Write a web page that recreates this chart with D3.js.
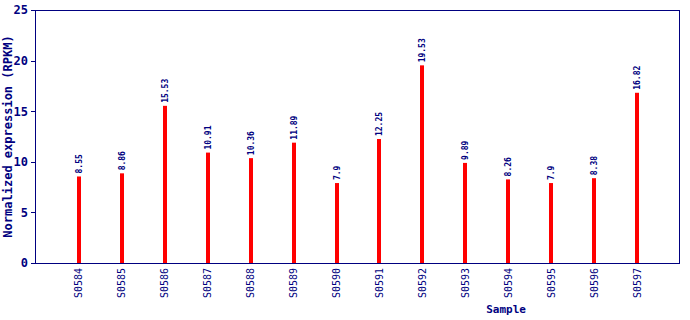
<!DOCTYPE html>
<html>
<head>
<meta charset="utf-8">
<script src="https://cdn.jsdelivr.net/npm/d3@7"></script>
<style>
  body { margin: 0; background: #fff; }
  svg { display: block; }
</style>
</head>
<body>
<div id="vis"></div>
<script>
// expression bar chart

const SAMPLES = ["S0584", "S0585", "S0586", "S0587", "S0588", "S0589", "S0590",
                 "S0591", "S0592", "S0593", "S0594", "S0595", "S0596", "S0597"];
const VALUES = [8.55, 8.86, 15.53, 10.91, 10.36, 11.89, 7.9,
                12.25, 19.53, 9.89, 8.26, 7.9, 8.38, 16.82];
const Y_TICKS = [0, 5, 10, 15, 20, 25];

const FRAME_WIDTH = 690;
const FRAME_HEIGHT = 320;
const MARGINS = {left: 36, right: 10, top: 10, bottom: 57};
const VIS_WIDTH = FRAME_WIDTH - MARGINS.left - MARGINS.right;
const VIS_HEIGHT = FRAME_HEIGHT - MARGINS.top - MARGINS.bottom;

const NAVY = "#000080";
const FONT = "'DejaVu Sans Mono', 'Liberation Mono', monospace";

const svg = d3.select("#vis")
              .append("svg")
              .attr("width", FRAME_WIDTH)
              .attr("height", FRAME_HEIGHT);

const X_SCALE = d3.scalePoint()
                  .domain(SAMPLES)
                  .range([MARGINS.left, MARGINS.left + VIS_WIDTH])
                  .padding(1);
const Y_SCALE = d3.scaleLinear()
                  .domain([0, 25])
                  .range([MARGINS.top + VIS_HEIGHT, MARGINS.top]);

// bars
svg.selectAll(".bar")
   .data(VALUES)
   .enter()
   .append("rect")
   .attr("class", "bar")
   .attr("x", (d, i) => Math.round(X_SCALE(SAMPLES[i])) - 2)
   .attr("y", (d) => Y_SCALE(d))
   .attr("width", 4)
   .attr("height", (d) => Y_SCALE(0) - Y_SCALE(d))
   .attr("fill", "#ff0000");

// value labels
svg.selectAll(".val")
   .data(VALUES)
   .enter()
   .append("text")
   .attr("class", "val")
   .attr("transform", (d, i) => "translate(" + (Math.round(X_SCALE(SAMPLES[i])) + 3) + "," + (Y_SCALE(d) - 3) + ") rotate(-90)")
   .attr("font-family", FONT)
   .attr("font-size", "8px")
   .attr("font-weight", "bold")
   .attr("fill", NAVY)
   .text((d) => d);

// plot frame
svg.append("rect")
   .attr("x", MARGINS.left - 0.5)
   .attr("y", MARGINS.top + 0.5)
   .attr("width", VIS_WIDTH)
   .attr("height", VIS_HEIGHT)
   .attr("fill", "none")
   .attr("stroke", NAVY)
   .attr("stroke-width", 1)
   .attr("shape-rendering", "crispEdges");

// y axis
const yAxis = svg.append("g")
   .attr("transform", "translate(" + MARGINS.left + ",0)")
   .call(d3.axisLeft(Y_SCALE).tickValues(Y_TICKS).tickSize(5).tickPadding(3));
yAxis.select(".domain").remove();
yAxis.selectAll("line").attr("stroke", NAVY).attr("shape-rendering", "crispEdges");
yAxis.selectAll("text")
     .attr("fill", NAVY)
     .attr("font-family", FONT)
     .attr("font-size", "12px")
     .attr("font-weight", "bold");

// x axis
const xAxis = svg.append("g")
   .attr("transform", "translate(0," + (MARGINS.top + VIS_HEIGHT) + ")")
   .call(d3.axisBottom(X_SCALE).tickSize(0));
xAxis.select(".domain").remove();
xAxis.selectAll("text")
     .attr("fill", NAVY)
     .attr("font-family", FONT)
     .attr("font-size", "10px")
     .attr("text-anchor", "end")
     .attr("dy", null)
     .attr("y", 0)
     .attr("transform", "translate(3,5) rotate(-90)");

// axis titles
svg.append("text")
   .attr("x", MARGINS.left + VIS_WIDTH * 0.73)
   .attr("y", 313)
   .attr("text-anchor", "middle")
   .attr("font-family", FONT)
   .attr("font-size", "11px")
   .attr("font-weight", "bold")
   .attr("fill", NAVY)
   .text("Sample");

svg.append("text")
   .attr("transform", "translate(12," + (MARGINS.top + VIS_HEIGHT / 2) + ") rotate(-90)")
   .attr("text-anchor", "middle")
   .attr("font-family", FONT)
   .attr("font-size", "12px")
   .attr("font-weight", "bold")
   .attr("fill", NAVY)
   .text("Normalized expression (RPKM)");
</script>
</body>
</html>
